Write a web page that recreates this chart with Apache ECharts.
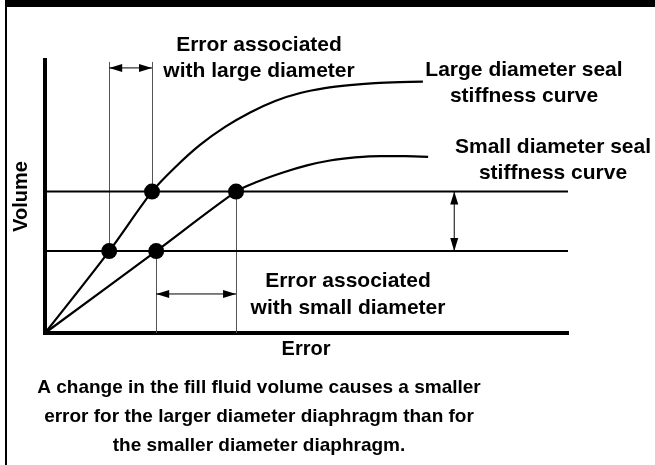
<!DOCTYPE html>
<html>
<head>
<meta charset="utf-8">
<script src="https://cdn.jsdelivr.net/npm/echarts@6/dist/echarts.min.js"></script>
<style>
  html, body { margin: 0; padding: 0; background: #fff; }
  #chart { width: 655px; height: 465px; }
</style>
</head>
<body>
<div id="chart"></div>
<script>
// Seal stiffness curves: [error, volume] on a 0..100 scale
const largeCurve = [[0, 0], [12.3, 30], [20.5, 51.8], [25.1, 61.0], [29.7, 68.9], [34.5, 75.5],
  [39.3, 80.8], [44.1, 85.0], [48.9, 87.9], [53.6, 89.7], [58.4, 90.8], [63.2, 91.5],
  [68.0, 91.9], [72.4, 92.1]];
const smallCurve = [[0, 0], [21.3, 30], [36.6, 51.8], [40.8, 55.5], [45.6, 58.8], [50.2, 61.4],
  [54.6, 63.2], [59.4, 64.3], [64.2, 64.8], [69.0, 64.8], [73.4, 64.5]];

// Fill-fluid volume levels (lower, upper) and how far their lines run
const volumeLevels = [30, 51.8];
const levelEnds = [100.4, 100.8];

// Annotation positions in data units
const guideTop = 99.3;          // top of the vertical guides over the large-diameter points
const largeErrorArrowY = 97.1;  // error span arrow for the large diaphragm
const smallErrorArrowY = 14.3;  // error span arrow for the small diaphragm
const volumeArrowX = 78.4;      // volume change arrow

const texts = {
  largeError: 'Error associated\nwith large diameter',
  smallError: 'Error associated\nwith small diameter',
  largeCurve: 'Large diameter seal\nstiffness curve',
  smallCurve: 'Small diameter seal\nstiffness curve',
  caption: 'A change in the fill fluid volume causes a smaller\nerror for the larger diameter diaphragm than for\nthe smaller diameter diaphragm.',
  xName: 'Error',
  yName: 'Volume'
};

// Operating points: where each curve crosses the two volume levels
const lgLow = largeCurve[1], lgHigh = largeCurve[2];
const smLow = smallCurve[1], smHigh = smallCurve[2];

const FONT = '"Liberation Sans", Arial, sans-serif';

const chart = echarts.init(document.getElementById('chart'), null, { renderer: 'canvas' });

const guides = [
  [[lgLow[0], lgLow[1]], [lgLow[0], guideTop]],
  [[lgHigh[0], lgHigh[1]], [lgHigh[0], guideTop]],
  [[smLow[0], smLow[1]], [smLow[0], 0]],
  [[smHigh[0], smHigh[1]], [smHigh[0], 0]]
];
// Double-headed dimension arrows: [x1, y1, x2, y2]
const arrows = [
  [lgLow[0], largeErrorArrowY, lgHigh[0], largeErrorArrowY],
  [smLow[0], smallErrorArrowY, smHigh[0], smallErrorArrowY],
  [volumeArrowX, volumeLevels[1], volumeArrowX, volumeLevels[0]]
];

const HEAD_LEN = 13, HEAD_HALF = 4;

function arrowHead(tip, from) {
  const dx = from[0] - tip[0], dy = from[1] - tip[1];
  const len = Math.hypot(dx, dy) || 1;
  const ux = dx / len, uy = dy / len;
  const bx = tip[0] + ux * HEAD_LEN, by = tip[1] + uy * HEAD_LEN;
  return {
    type: 'polygon',
    shape: { points: [tip, [bx - uy * HEAD_HALF, by + ux * HEAD_HALF], [bx + uy * HEAD_HALF, by - ux * HEAD_HALF]] },
    style: { fill: '#000' }
  };
}

function renderArrow(params, api) {
  const p1 = api.coord([api.value(0), api.value(1)]);
  const p2 = api.coord([api.value(2), api.value(3)]);
  return {
    type: 'group',
    children: [
      { type: 'line', shape: { x1: p1[0], y1: p1[1], x2: p2[0], y2: p2[1] },
        style: { stroke: '#000', lineWidth: 1 } },
      arrowHead(p1, p2),
      arrowHead(p2, p1)
    ]
  };
}

const option = {
  animation: false,
  backgroundColor: '#fff',
  grid: { left: 45, right: 88, top: 60, bottom: 132, containLabel: false },
  xAxis: {
    type: 'value', min: 0, max: 100,
    name: texts.xName, nameLocation: 'middle', nameGap: 6,
    nameTextStyle: { color: '#000', fontWeight: 'bold', fontSize: 20, fontFamily: FONT, verticalAlign: 'top' },
    axisLine: { show: true, onZero: false, lineStyle: { color: '#000', width: 4, cap: 'square' } },
    axisTick: { show: false }, axisLabel: { show: false }, splitLine: { show: false }
  },
  yAxis: {
    type: 'value', min: 0, max: 100,
    name: texts.yName, nameLocation: 'middle', nameGap: 14, nameRotate: 90,
    nameTextStyle: { color: '#000', fontWeight: 'bold', fontSize: 20, fontFamily: FONT },
    axisLine: { show: true, onZero: false, lineStyle: { color: '#000', width: 4, cap: 'square' } },
    axisTick: { show: false }, axisLabel: { show: false }, splitLine: { show: false }
  },
  series: [
    {
      type: 'lines', coordinateSystem: 'cartesian2d', silent: true, z: 1,
      symbol: 'none',
      lineStyle: { color: '#555', width: 1, opacity: 1 },
      data: guides.map(c => ({ coords: c }))
    },
    ...volumeLevels.map((v, i) => ({
      type: 'line', clip: false, symbol: 'none', silent: true, z: 2,
      lineStyle: { color: '#000', width: 2 },
      data: [[0, v], [levelEnds[i], v]]
    })),
    {
      type: 'line', name: 'Large diameter', clip: false, symbol: 'none', smooth: 0.3, z: 3,
      lineStyle: { color: '#000', width: 2.2 },
      data: largeCurve
    },
    {
      type: 'line', name: 'Small diameter', clip: false, symbol: 'none', smooth: 0.3, z: 3,
      lineStyle: { color: '#000', width: 2.2 },
      data: smallCurve
    },
    {
      type: 'custom', silent: true, z: 4, clip: false,
      renderItem: renderArrow,
      encode: { x: [0, 2], y: [1, 3] },
      data: arrows
    },
    {
      type: 'scatter', symbol: 'circle', symbolSize: 16, silent: true, z: 5,
      itemStyle: { color: '#000', opacity: 1 },
      data: [lgLow, lgHigh, smLow, smHigh]
    }
  ],
  graphic: [
    { type: 'rect', left: 5, top: 0, shape: { width: 650, height: 7 }, style: { fill: '#000' }, silent: true },
    { type: 'rect', left: 5, top: 0, shape: { width: 2, height: 465 }, style: { fill: '#000' }, silent: true },
    {
      type: 'text', x: 259, y: 58, silent: true,
      style: { text: texts.largeError, align: 'center', verticalAlign: 'middle', fill: '#000',
        font: 'bold 21px ' + FONT, lineHeight: 26 }
    },
    {
      type: 'text', x: 524, y: 83, silent: true,
      style: { text: texts.largeCurve, align: 'center', verticalAlign: 'middle', fill: '#000',
        font: 'bold 21px ' + FONT, lineHeight: 26 }
    },
    {
      type: 'text', x: 553, y: 160, silent: true,
      style: { text: texts.smallCurve, align: 'center', verticalAlign: 'middle', fill: '#000',
        font: 'bold 21px ' + FONT, lineHeight: 26 }
    },
    {
      type: 'text', x: 348, y: 295, silent: true,
      style: { text: texts.smallError, align: 'center', verticalAlign: 'middle', fill: '#000',
        font: 'bold 21px ' + FONT, lineHeight: 27 }
    },
    {
      type: 'text', x: 259, y: 417, silent: true,
      style: { text: texts.caption, align: 'center', verticalAlign: 'middle', fill: '#000',
        font: 'bold 19px ' + FONT, lineHeight: 29 }
    }
  ]
};

chart.setOption(option);
</script>
</body>
</html>
